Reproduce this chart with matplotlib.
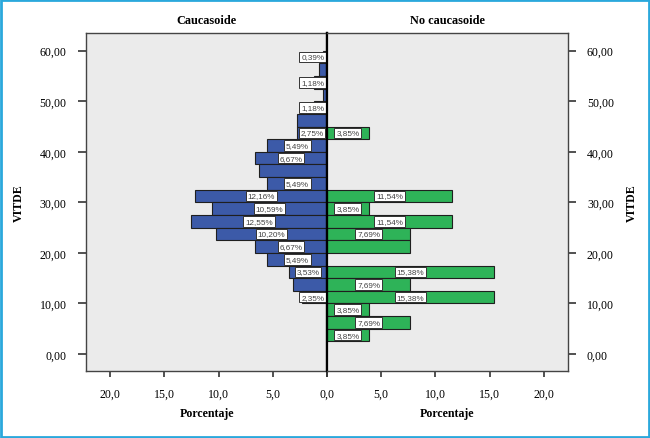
import matplotlib
matplotlib.use("Agg")
import matplotlib.pyplot as plt
from matplotlib.patches import Rectangle
from matplotlib.ticker import FuncFormatter

# =========================
# datos (porcentaje por intervalo de VITDE, ancho 2,5)
# =========================
BIN_WIDTH = 2.5

cau_bins = [57.5, 55.0, 52.5, 50.0, 47.5, 45.0, 42.5, 40.0, 37.5, 35.0,
            32.5, 30.0, 27.5, 25.0, 22.5, 20.0, 17.5, 15.0, 12.5, 10.0]
cau_pct = [0.39, 0.78, 1.18, 0.39, 1.18, 2.75, 2.75, 5.49, 6.67, 6.27,
           5.49, 12.16, 10.59, 12.55, 10.20, 6.67, 5.49, 3.53, 3.14, 2.35]
cau_show = [1, 0, 1, 0, 1, 0, 1, 1, 1, 0,
            1, 1, 1, 1, 1, 1, 1, 1, 0, 1]

nocau_bins = [42.5, 30.0, 27.5, 25.0, 22.5, 20.0, 15.0, 12.5, 10.0, 7.5, 5.0, 2.5]
nocau_pct = [3.85, 11.54, 3.85, 11.54, 7.69, 7.69, 15.38, 7.69, 15.38, 3.85, 7.69, 3.85]
nocau_show = [1, 1, 1, 1, 1, 0, 1, 1, 1, 1, 1, 1]

x_ticks = [0, 5, 10, 15, 20]
y_ticks = [0, 10, 20, 30, 40, 50, 60]

BLUE = "#3c5aa8"
GREEN = "#2eb358"
PANEL_BG = "#ebebeb"

SERIF = ["Liberation Serif", "DejaVu Serif"]
SANS = ["Liberation Sans", "DejaVu Sans"]

plt.rcParams["font.family"] = SERIF


def comma(fmt, skip_zero=False):
    def f(v, p):
        if skip_zero and abs(v) < 1e-9:
            return ""
        return (fmt % v).replace(".", ",")
    return FuncFormatter(f)


def draw_side(ax, bins, pct, show, color):
    centers = [b + BIN_WIDTH / 2 for b in bins]
    ax.barh(centers, pct, height=BIN_WIDTH, color=color,
            edgecolor="#1f1f1f", linewidth=0.8, zorder=2)
    for c, v, s in zip(centers, pct, show):
        if not s:
            continue
        xpos = max(v / 2, 1.32)
        ax.text(xpos, c, f"{v:.2f}%".replace(".", ","), ha="center", va="center",
                fontsize=5.9, family=SANS, color="#444444", zorder=3,
                bbox=dict(boxstyle="square,pad=0.22", fc="white",
                          ec="#333333", lw=0.7))


fig = plt.figure(figsize=(6.5, 4.39), dpi=100)
fig.patch.set_facecolor("white")

ax_l = fig.add_axes([86 / 650, 1 - 372 / 439, 241 / 650, 338 / 439])
ax_r = fig.add_axes([327 / 650, 1 - 372 / 439, 240.5 / 650, 338 / 439], sharey=ax_l)

draw_side(ax_l, cau_bins, cau_pct, cau_show, BLUE)
draw_side(ax_r, nocau_bins, nocau_pct, nocau_show, GREEN)

ax_l.set_xlim(22.23, 0)
ax_r.set_xlim(0, 22.19)
ax_l.set_ylim(-3.36, 63.5)

for ax in (ax_l, ax_r):
    ax.set_facecolor(PANEL_BG)
    ax.set_xticks(x_ticks)
    ax.set_yticks(y_ticks)
    ax.yaxis.set_major_formatter(comma("%.2f"))
    ax.tick_params(axis="x", length=4, width=1.2, pad=8, labelsize=8.6, color="#333333")
    ax.tick_params(axis="y", length=6, width=1.2, pad=8, labelsize=8.6, color="#333333")
    for sp in ax.spines.values():
        sp.set_color("#444444")
        sp.set_linewidth(1.0)
    ax.set_xlabel("Porcentaje", fontsize=8.6, fontweight="bold", labelpad=5)

ax_l.xaxis.set_major_formatter(comma("%.1f"))
ax_r.xaxis.set_major_formatter(comma("%.1f", skip_zero=True))

ax_l.spines["right"].set_color("black")
ax_l.spines["right"].set_linewidth(1.6)
ax_r.spines["left"].set_color("black")
ax_r.spines["left"].set_linewidth(1.6)
ax_r.tick_params(axis="y", left=False, right=True, labelleft=False, labelright=True)
ax_r.yaxis.set_label_position("right")
ax_r.set_ylabel("VITDE", fontsize=8.6, fontweight="bold", rotation=90)
ax_l.set_ylabel("VITDE", fontsize=8.6, fontweight="bold")
ax_r.yaxis.set_label_coords(1 + (626 - 567.5) / 240.5, 0.5)
ax_l.yaxis.set_label_coords(-(86 - 25) / 241, 0.5)

ax_l.set_title("Caucasoide", fontsize=8.8, fontweight="bold", pad=7)
ax_r.set_title("No caucasoide", fontsize=8.8, fontweight="bold", pad=7)

# marco azul de la figura
fig.patches.append(Rectangle((0.0015, 0.002), 0.997, 0.996, transform=fig.transFigure,
                             fill=False, ec="#2aa8dc", lw=2.0))

fig.savefig("out.png", dpi=100)
